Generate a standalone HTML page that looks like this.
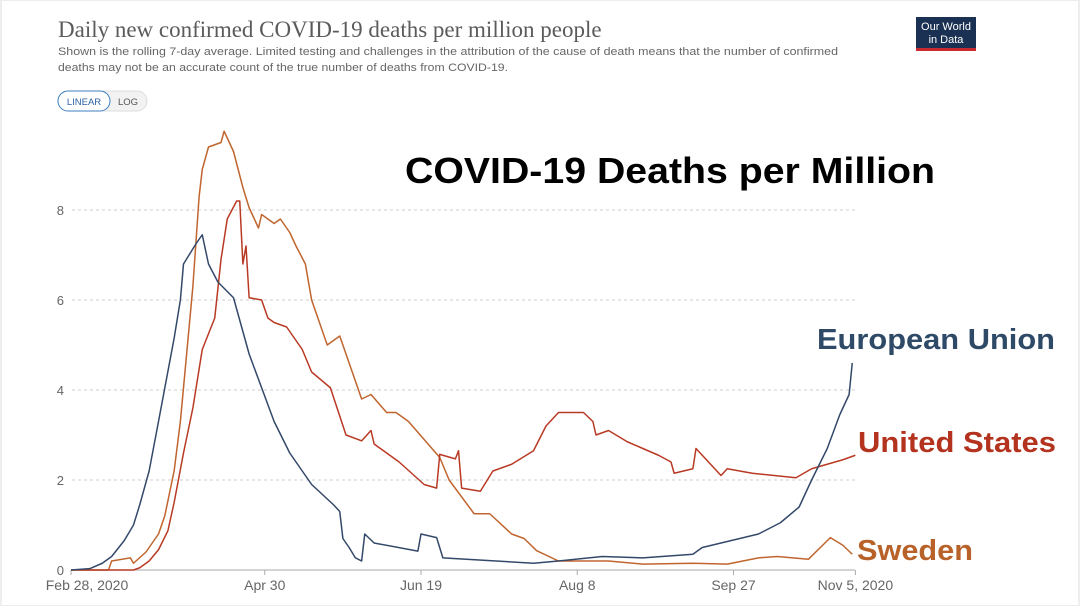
<!DOCTYPE html>
<html><head><meta charset="utf-8">
<style>
html,body{margin:0;padding:0;background:#fff;}
body{width:1080px;height:606px;overflow:hidden;position:relative;font-family:"Liberation Sans",sans-serif;}
</style></head>
<body>
<svg width="1080" height="606" viewBox="0 0 1080 606" style="position:absolute;left:0;top:0">
  <rect x="0" y="0" width="1080" height="606" fill="#fff"/>
  <rect x="1" y="0" width="1078" height="606" fill="none" stroke="#eee" stroke-width="2"/>
  <text x="58" y="37" font-family="Liberation Serif, serif" font-size="23" fill="#5b5b5b">Daily new confirmed COVID-19 deaths per million people</text>
  <text x="58" y="55" font-size="11.2" fill="#666" textLength="780" lengthAdjust="spacingAndGlyphs">Shown is the rolling 7-day average. Limited testing and challenges in the attribution of the cause of death means that the number of confirmed</text>
  <text x="58" y="71" font-size="11.2" fill="#666" textLength="450" lengthAdjust="spacingAndGlyphs">deaths may not be an accurate count of the true number of deaths from COVID-19.</text>
  <g>
    <rect x="916" y="17" width="60" height="34" fill="#1b3153"/>
    <rect x="916" y="48" width="60" height="3" fill="#c8282f"/>
    <text x="946" y="30" font-size="11" fill="#fff" text-anchor="middle">Our World</text>
    <text x="946" y="43" font-size="11" fill="#fff" text-anchor="middle">in Data</text>
  </g>
  <g>
    <rect x="58" y="91" width="89" height="20" rx="10" fill="#f2f2f2" stroke="#ddd"/>
    <rect x="58" y="91" width="52" height="20" rx="10" fill="#fff" stroke="#3d7fc1"/>
    <text x="84" y="105" font-size="9.5" fill="#2e63a5" text-anchor="middle">LINEAR</text>
    <text x="128" y="105" font-size="9.5" fill="#555" text-anchor="middle">LOG</text>
  </g>
  <g id="grid"></g>
  <g id="axes"></g>
  <g id="series"></g>
  <text x="670" y="183" font-size="36" font-weight="bold" fill="#000" text-anchor="middle" textLength="530" lengthAdjust="spacingAndGlyphs">COVID-19 Deaths per Million</text>
  <text x="817" y="349" font-size="29" font-weight="bold" fill="#2e4a67" textLength="238" lengthAdjust="spacingAndGlyphs">European Union</text>
  <text x="858" y="452" font-size="29" font-weight="bold" fill="#b3331f" textLength="198" lengthAdjust="spacingAndGlyphs">United States</text>
  <text x="857" y="560" font-size="29" font-weight="bold" fill="#b8622a" textLength="116" lengthAdjust="spacingAndGlyphs">Sweden</text>
</svg>
<script>
const yTicks=[0,2,4,6,8];
const xTickDays=[0,62,112,162,212,251];
const xTickLabels=["Feb 28, 2020","Apr 30","Jun 19","Aug 8","Sep 27","Nov 5, 2020"];
const euDays=[0,6,10,13,17,20,22,25,28,33,35,36,40,42,44,47,52,57,65,70,77,84,86,87,89,91,93,94,97,111,112,117,119,148,156,170,183,199,202,208,220,227,233,237,242,246,249,250];
const euValues=[0,0.03,0.15,0.3,0.65,1.0,1.45,2.2,3.3,5.15,6.0,6.8,7.25,7.45,6.8,6.4,6.05,4.8,3.3,2.6,1.9,1.45,1.3,0.7,0.5,0.27,0.2,0.8,0.6,0.42,0.8,0.72,0.27,0.15,0.2,0.3,0.27,0.35,0.5,0.6,0.8,1.05,1.4,2.0,2.7,3.45,3.9,4.6];
const usDays=[0,20,22,25,28,31,33,36,39,42,46,48,50,53,54,55,56,57,61,63,65,69,74,77,83,88,93,96,97,105,113,117,118,123,124,125,131,135,141,148,152,156,164,167,168,172,178,183,188,192,193,199,200,204,208,210,218,232,237,247,251];
const usValues=[0,0,0.05,0.2,0.45,0.87,1.5,2.6,3.6,4.9,5.6,6.9,7.8,8.2,8.2,6.8,7.2,6.05,6.0,5.6,5.5,5.4,4.9,4.4,4.05,3.0,2.87,3.1,2.8,2.4,1.9,1.82,2.57,2.47,2.65,1.82,1.75,2.2,2.35,2.65,3.2,3.5,3.5,3.3,3.0,3.1,2.85,2.7,2.55,2.4,2.15,2.25,2.7,2.4,2.1,2.25,2.15,2.05,2.25,2.45,2.55];
const seDays=[0,12,13,19,20,24,28,30,33,35,37,39,41,42,44,48,49,52,55,57,60,61,65,67,70,72,75,77,82,86,93,96,101,104,108,113,118,121,129,134,141,145,149,156,172,183,199,210,220,226,236,243,247,250];
const seValues=[0,0,0.2,0.27,0.15,0.4,0.8,1.2,2.2,3.3,4.8,6.3,8.3,8.9,9.4,9.5,9.75,9.3,8.5,8.05,7.6,7.9,7.7,7.8,7.5,7.2,6.8,6.0,5.0,5.2,3.8,3.9,3.5,3.5,3.3,2.9,2.5,2.0,1.25,1.25,0.8,0.7,0.43,0.2,0.2,0.13,0.15,0.13,0.27,0.3,0.24,0.72,0.55,0.35];

const NS="http://www.w3.org/2000/svg";
const xScale=d=>71+d*3.125;
const yScale=v=>570-v*45;
function mk(tag,attrs,parent){const e=document.createElementNS(NS,tag);for(const k in attrs)e.setAttribute(k,attrs[k]);parent.appendChild(e);return e;}
const grid=document.getElementById('grid'),axes=document.getElementById('axes'),series=document.getElementById('series');
yTicks.forEach(v=>{
  if(v>0){const l=mk('line',{x1:72,x2:855,y1:yScale(v),y2:yScale(v),stroke:'#ccc','stroke-dasharray':'3,3'},grid);
  
  }
  const t=mk('text',{x:64,y:yScale(v)+5,'font-size':13,fill:'#666','text-anchor':'end'},axes);
  t.textContent=v;
  
  
});
const ax=mk('line',{x1:71,x2:855,y1:570,y2:570,stroke:'#aaa'},axes);


xTickDays.forEach((d,i)=>{
  mk('line',{x1:xScale(d),x2:xScale(d),y1:570,y2:575,stroke:'#aaa'},axes);
  const t=mk('text',{x:xScale(d)+(i==0?16:0),y:590,'font-size':14,fill:'#666','text-anchor':'middle'},axes);
  t.textContent=xTickLabels[i];
  
  
});
function line(days,vals,color,name){
  const p=mk('polyline',{points:days.map((d,i)=>xScale(d)+','+yScale(vals[i])).join(' '),fill:'none',stroke:color,'stroke-width':1.5,'stroke-linejoin':'round'},series);
  
  
}
line(seDays,seValues,'#c0652e','line-sweden');
line(usDays,usValues,'#b93a24','line-united-states');
line(euDays,euValues,'#34496a','line-european-union');
</script>
</body></html>
